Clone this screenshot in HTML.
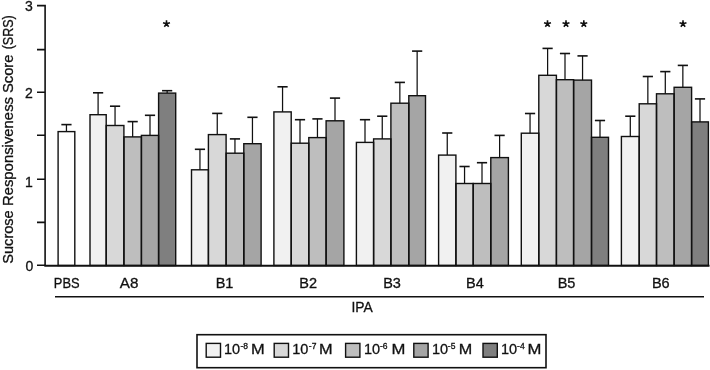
<!DOCTYPE html>
<html><head><meta charset="utf-8"><style>
html,body{margin:0;padding:0;background:#fff;}
svg{display:block;will-change:transform;}
text{font-family:"Liberation Sans",sans-serif;fill:#111;stroke:#111;stroke-width:0.3px;}
</style></head><body>
<svg width="710" height="370" viewBox="0 0 710 370">
<g><rect x="58.1" y="131.6" width="16.7" height="133.9" fill="#ffffff"/><rect x="90.0" y="114.7" width="16.2" height="150.8" fill="#f1f1f1"/><rect x="106.2" y="125.5" width="17.7" height="140.0" fill="#d8d8d8"/><rect x="123.9" y="136.9" width="17.5" height="128.6" fill="#bebebe"/><rect x="141.4" y="135.4" width="17.2" height="130.1" fill="#a5a5a5"/><rect x="158.6" y="93.1" width="17.1" height="172.4" fill="#7f7f7f"/><rect x="191.5" y="169.8" width="16.9" height="95.7" fill="#f1f1f1"/><rect x="208.4" y="134.6" width="17.7" height="130.9" fill="#d8d8d8"/><rect x="226.1" y="153.2" width="17.7" height="112.3" fill="#bebebe"/><rect x="243.8" y="143.7" width="17.3" height="121.8" fill="#a5a5a5"/><rect x="273.9" y="111.9" width="17.3" height="153.6" fill="#f1f1f1"/><rect x="291.2" y="143.2" width="17.6" height="122.3" fill="#d8d8d8"/><rect x="308.8" y="137.6" width="17.3" height="127.9" fill="#bebebe"/><rect x="326.1" y="120.8" width="17.8" height="144.7" fill="#a5a5a5"/><rect x="356.4" y="142.4" width="17.2" height="123.1" fill="#f1f1f1"/><rect x="373.6" y="138.9" width="17.3" height="126.6" fill="#d8d8d8"/><rect x="390.9" y="103.2" width="17.9" height="162.3" fill="#bebebe"/><rect x="408.8" y="95.7" width="16.7" height="169.8" fill="#a5a5a5"/><rect x="438.6" y="155.1" width="17.3" height="110.4" fill="#f1f1f1"/><rect x="455.9" y="183.5" width="17.3" height="82.0" fill="#d8d8d8"/><rect x="473.2" y="183.5" width="17.6" height="82.0" fill="#bebebe"/><rect x="490.8" y="157.6" width="17.6" height="107.9" fill="#a5a5a5"/><rect x="521.3" y="133.2" width="17.5" height="132.3" fill="#f1f1f1"/><rect x="538.8" y="75.3" width="17.6" height="190.2" fill="#d8d8d8"/><rect x="556.4" y="79.7" width="17.2" height="185.8" fill="#bebebe"/><rect x="573.6" y="80.1" width="17.9" height="185.4" fill="#a5a5a5"/><rect x="591.5" y="137.3" width="17.0" height="128.2" fill="#7f7f7f"/><rect x="621.4" y="136.5" width="17.8" height="129.0" fill="#f1f1f1"/><rect x="639.2" y="103.8" width="17.3" height="161.7" fill="#d8d8d8"/><rect x="656.5" y="93.8" width="17.6" height="171.7" fill="#bebebe"/><rect x="674.1" y="87.3" width="17.5" height="178.2" fill="#a5a5a5"/><rect x="691.6" y="121.9" width="16.8" height="143.6" fill="#7f7f7f"/></g>
<g fill="none" stroke="#111" stroke-width="1.6"><path d="M66.45 131.6V124.6" stroke-width="1.25"/><path d="M61.35 124.6H71.55"/><path d="M98.10 114.7V92.8" stroke-width="1.25"/><path d="M93.00 92.8H103.20"/><path d="M115.05 125.5V106.2" stroke-width="1.25"/><path d="M109.95 106.2H120.15"/><path d="M132.65 136.9V121.6" stroke-width="1.25"/><path d="M127.55 121.6H137.75"/><path d="M150.00 135.4V115.3" stroke-width="1.25"/><path d="M144.90 115.3H155.10"/><path d="M167.15 93.1V90.7" stroke-width="1.25"/><path d="M162.05 90.7H172.25"/><path d="M199.95 169.8V149.3" stroke-width="1.25"/><path d="M194.85 149.3H205.05"/><path d="M217.25 134.6V113.4" stroke-width="1.25"/><path d="M212.15 113.4H222.35"/><path d="M234.95 153.2V138.9" stroke-width="1.25"/><path d="M229.85 138.9H240.05"/><path d="M252.45 143.7V117.3" stroke-width="1.25"/><path d="M247.35 117.3H257.55"/><path d="M282.55 111.9V86.8" stroke-width="1.25"/><path d="M277.45 86.8H287.65"/><path d="M300.00 143.2V119.7" stroke-width="1.25"/><path d="M294.90 119.7H305.10"/><path d="M317.45 137.6V118.9" stroke-width="1.25"/><path d="M312.35 118.9H322.55"/><path d="M335.00 120.8V98.1" stroke-width="1.25"/><path d="M329.90 98.1H340.10"/><path d="M365.00 142.4V119.7" stroke-width="1.25"/><path d="M359.90 119.7H370.10"/><path d="M382.25 138.9V116.2" stroke-width="1.25"/><path d="M377.15 116.2H387.35"/><path d="M399.85 103.2V82.4" stroke-width="1.25"/><path d="M394.75 82.4H404.95"/><path d="M417.15 95.7V51.1" stroke-width="1.25"/><path d="M412.05 51.1H422.25"/><path d="M447.25 155.1V133.0" stroke-width="1.25"/><path d="M442.15 133.0H452.35"/><path d="M464.55 183.5V166.5" stroke-width="1.25"/><path d="M459.45 166.5H469.65"/><path d="M482.00 183.5V162.7" stroke-width="1.25"/><path d="M476.90 162.7H487.10"/><path d="M499.60 157.6V135.4" stroke-width="1.25"/><path d="M494.50 135.4H504.70"/><path d="M530.05 133.2V113.5" stroke-width="1.25"/><path d="M524.95 113.5H535.15"/><path d="M547.60 75.3V48.4" stroke-width="1.25"/><path d="M542.50 48.4H552.70"/><path d="M565.00 79.7V53.5" stroke-width="1.25"/><path d="M559.90 53.5H570.10"/><path d="M582.55 80.1V55.9" stroke-width="1.25"/><path d="M577.45 55.9H587.65"/><path d="M600.00 137.3V120.5" stroke-width="1.25"/><path d="M594.90 120.5H605.10"/><path d="M630.30 136.5V116.2" stroke-width="1.25"/><path d="M625.20 116.2H635.40"/><path d="M647.85 103.8V76.5" stroke-width="1.25"/><path d="M642.75 76.5H652.95"/><path d="M665.30 93.8V71.6" stroke-width="1.25"/><path d="M660.20 71.6H670.40"/><path d="M682.85 87.3V65.4" stroke-width="1.25"/><path d="M677.75 65.4H687.95"/><path d="M700.00 121.9V98.9" stroke-width="1.25"/><path d="M694.90 98.9H705.10"/></g>
<g fill="none" stroke="#111" stroke-width="1.4"><rect x="58.1" y="131.6" width="16.7" height="133.9"/><rect x="90.0" y="114.7" width="16.2" height="150.8"/><rect x="106.2" y="125.5" width="17.7" height="140.0"/><rect x="123.9" y="136.9" width="17.5" height="128.6"/><rect x="141.4" y="135.4" width="17.2" height="130.1"/><rect x="158.6" y="93.1" width="17.1" height="172.4"/><rect x="191.5" y="169.8" width="16.9" height="95.7"/><rect x="208.4" y="134.6" width="17.7" height="130.9"/><rect x="226.1" y="153.2" width="17.7" height="112.3"/><rect x="243.8" y="143.7" width="17.3" height="121.8"/><rect x="273.9" y="111.9" width="17.3" height="153.6"/><rect x="291.2" y="143.2" width="17.6" height="122.3"/><rect x="308.8" y="137.6" width="17.3" height="127.9"/><rect x="326.1" y="120.8" width="17.8" height="144.7"/><rect x="356.4" y="142.4" width="17.2" height="123.1"/><rect x="373.6" y="138.9" width="17.3" height="126.6"/><rect x="390.9" y="103.2" width="17.9" height="162.3"/><rect x="408.8" y="95.7" width="16.7" height="169.8"/><rect x="438.6" y="155.1" width="17.3" height="110.4"/><rect x="455.9" y="183.5" width="17.3" height="82.0"/><rect x="473.2" y="183.5" width="17.6" height="82.0"/><rect x="490.8" y="157.6" width="17.6" height="107.9"/><rect x="521.3" y="133.2" width="17.5" height="132.3"/><rect x="538.8" y="75.3" width="17.6" height="190.2"/><rect x="556.4" y="79.7" width="17.2" height="185.8"/><rect x="573.6" y="80.1" width="17.9" height="185.4"/><rect x="591.5" y="137.3" width="17.0" height="128.2"/><rect x="621.4" y="136.5" width="17.8" height="129.0"/><rect x="639.2" y="103.8" width="17.3" height="161.7"/><rect x="656.5" y="93.8" width="17.6" height="171.7"/><rect x="674.1" y="87.3" width="17.5" height="178.2"/><rect x="691.6" y="121.9" width="16.8" height="143.6"/></g>
<path d="M45.1 4.8V265.8M37 5.6H45M37 49.6H45M37 92.2H45M37 135.3H45M37 179.3H45M37 222.4H45M37 265.2H45" fill="none" stroke="#111" stroke-width="1.6"/><path d="M44.3 265.8H709.5" fill="none" stroke="#111" stroke-width="1.9"/>
<g font-size="14" text-anchor="middle">
<text x="29" y="10.5">3</text>
<text x="29" y="97.8">2</text>
<text x="29" y="186.8">1</text>
<text x="29.3" y="271">0</text>
</g>
<g transform="translate(13 0) rotate(-90)" font-size="14.5"><text x="-263.7" y="0" textLength="53.4" lengthAdjust="spacingAndGlyphs">Sucrose</text><text x="-206.1" y="0" textLength="109.1" lengthAdjust="spacingAndGlyphs">Responsiveness</text><text x="-93.1" y="0" textLength="38.6" lengthAdjust="spacingAndGlyphs">Score</text><text x="-49.3" y="0" textLength="34.1" lengthAdjust="spacingAndGlyphs">(SRS)</text></g>
<g font-size="14.5" text-anchor="middle">
<text x="66.7" y="288.3" textLength="25.8" lengthAdjust="spacingAndGlyphs">PBS</text>
<text x="129.05" y="288.3" textLength="18.6" lengthAdjust="spacingAndGlyphs">A8</text>
<text x="224.55" y="288.3">B1</text>
<text x="308.15" y="288.3">B2</text>
<text x="392" y="288.3">B3</text>
<text x="474.85" y="288.3">B4</text>
<text x="566.55" y="288.3">B5</text>
<text x="660.8" y="288.3">B6</text>
<text x="362.1" y="311.9" textLength="21.3" lengthAdjust="spacingAndGlyphs">IPA</text>
</g>
<path d="M55 296.7H704" stroke="#111" stroke-width="1.6"/>
<g fill="none" stroke="#111" stroke-width="1.6"><path d="M166.50 23.80L166.50 20.15M166.50 23.80L169.97 22.67M166.50 23.80L168.65 26.75M166.50 23.80L164.35 26.75M166.50 23.80L163.03 22.67"/><path d="M547.50 23.80L547.50 20.15M547.50 23.80L550.97 22.67M547.50 23.80L549.65 26.75M547.50 23.80L545.35 26.75M547.50 23.80L544.03 22.67"/><path d="M566.00 23.80L566.00 20.15M566.00 23.80L569.47 22.67M566.00 23.80L568.15 26.75M566.00 23.80L563.85 26.75M566.00 23.80L562.53 22.67"/><path d="M583.80 23.80L583.80 20.15M583.80 23.80L587.27 22.67M583.80 23.80L585.95 26.75M583.80 23.80L581.65 26.75M583.80 23.80L580.33 22.67"/><path d="M683.00 23.80L683.00 20.15M683.00 23.80L686.47 22.67M683.00 23.80L685.15 26.75M683.00 23.80L680.85 26.75M683.00 23.80L679.53 22.67"/></g>
<rect x="197" y="334.7" width="349" height="33" fill="none" stroke="#111" stroke-width="1.6"/>
<rect x="206.2" y="343.4" width="14.3" height="13.8" fill="#f1f1f1" stroke="#111" stroke-width="1.4"/>
<text x="223.9" y="353.9" font-size="14.5">10</text>
<text x="240.5" y="348.6" font-size="8.5">-8</text>
<text x="250.9" y="353.9" font-size="14.5" textLength="13.7" lengthAdjust="spacingAndGlyphs">M</text>
<rect x="274.2" y="343.4" width="14.3" height="13.8" fill="#d8d8d8" stroke="#111" stroke-width="1.4"/>
<text x="292.2" y="353.9" font-size="14.5">10</text>
<text x="308.8" y="348.6" font-size="8.5">-7</text>
<text x="319.0" y="353.9" font-size="14.5" textLength="13.6" lengthAdjust="spacingAndGlyphs">M</text>
<rect x="345.6" y="343.4" width="14.3" height="13.8" fill="#bebebe" stroke="#111" stroke-width="1.4"/>
<text x="363.9" y="353.9" font-size="14.5">10</text>
<text x="379.9" y="348.6" font-size="8.5">-6</text>
<text x="391.6" y="353.9" font-size="14.5" textLength="13.9" lengthAdjust="spacingAndGlyphs">M</text>
<rect x="413.8" y="343.4" width="14.3" height="13.8" fill="#a5a5a5" stroke="#111" stroke-width="1.4"/>
<text x="431.9" y="353.9" font-size="14.5">10</text>
<text x="447.8" y="348.6" font-size="8.5">-5</text>
<text x="458.7" y="353.9" font-size="14.5" textLength="13.5" lengthAdjust="spacingAndGlyphs">M</text>
<rect x="483" y="343.4" width="14.3" height="13.8" fill="#7f7f7f" stroke="#111" stroke-width="1.4"/>
<text x="501.0" y="353.9" font-size="14.5">10</text>
<text x="517.1" y="348.6" font-size="8.5">-4</text>
<text x="527.6" y="353.9" font-size="14.5" textLength="13.9" lengthAdjust="spacingAndGlyphs">M</text>
</svg>
</body></html>
